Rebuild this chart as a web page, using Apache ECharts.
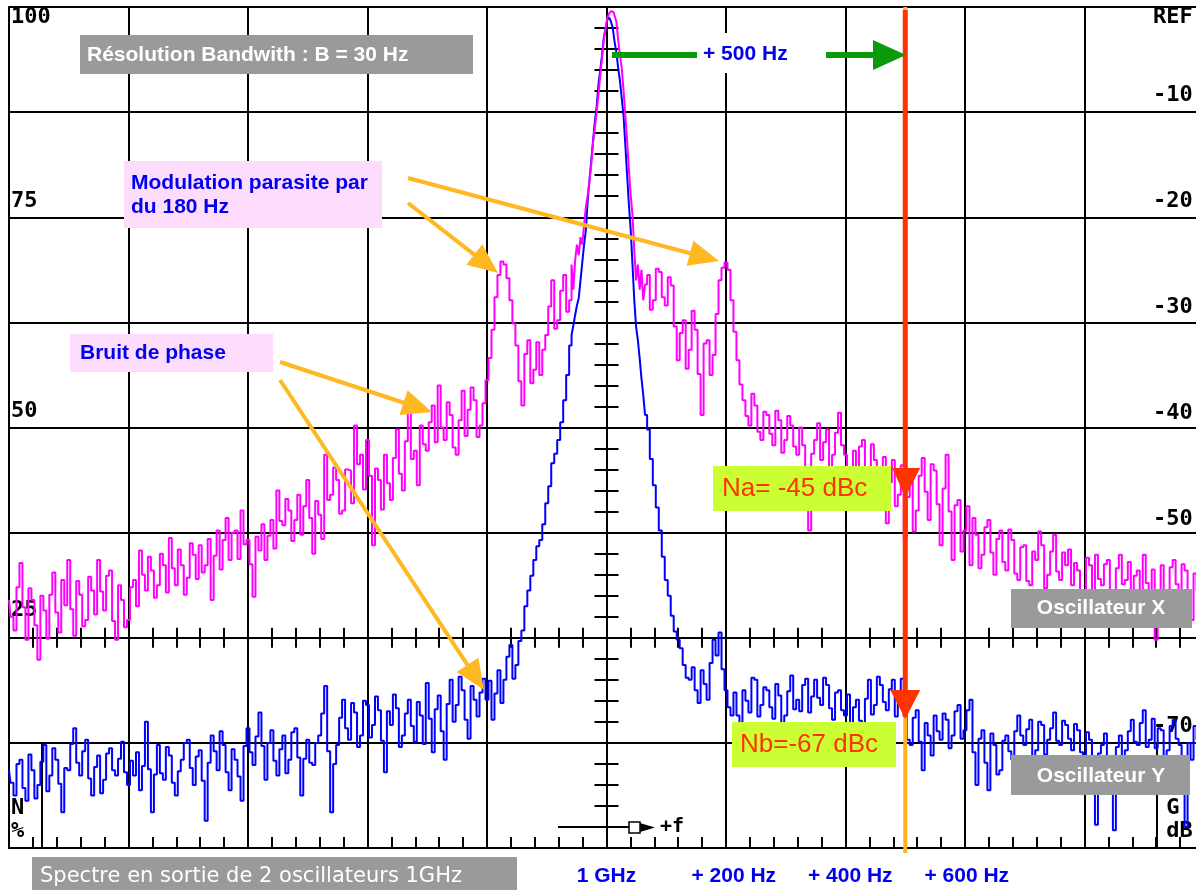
<!DOCTYPE html>
<html><head><meta charset="utf-8">
<script src="https://cdn.jsdelivr.net/npm/echarts@6/dist/echarts.min.js"></script>
<style>html,body{margin:0;padding:0;background:#fff;overflow:hidden}#c{width:1196px;height:890px}</style>
</head><body><div id="c"></div>
<script>
// ---- axis ranges (Hz offset from 1 GHz carrier, dB) ----
const FREQ_MIN = -1000, FREQ_MAX = 1000, FREQ_STEP = 200;
const DB_MIN = -80, DB_MAX = 0, DB_STEP = 10;

// ---- Oscillateur X (magenta), dB ----
// wings sampled every 5 Hz, core every 3 Hz
const oscXLeft = [ // -1000 .. -60 Hz
 -56.4,-58.0,-59.3,-55.2,-52.9,-57.1,-60.2,-55.3,-56.4,-58.8,
 -62.1,-56.0,-57.4,-60.1,-55.9,-53.8,-57.6,-59.5,-54.5,-56.9,
 -52.6,-57.3,-59.8,-54.6,-55.9,-58.9,-58.3,-54.2,-55.5,-57.8,
 -52.6,-55.6,-57.4,-54.1,-53.6,-58.4,-60.2,-55.0,-56.4,-59.0,
 -58.3,-55.2,-54.5,-57.0,-51.7,-54.0,-55.5,-52.3,-53.6,-56.2,
 -55.0,-52.0,-53.1,-55.7,-50.5,-53.4,-55.0,-51.6,-53.1,-55.9,
 -54.3,-51.0,-52.1,-54.4,-51.2,-53.8,-53.1,-50.6,-56.4,-52.2,
 -49.8,-53.5,-50.7,-48.6,-52.6,-50.0,-49.8,-52.5,-47.9,-51.1,
 -50.7,-53.0,-56.1,-50.4,-51.7,-49.2,-52.6,-50.3,-48.8,-51.5,
 -46.0,-48.9,-49.3,-46.8,-47.9,-50.8,-48.8,-46.4,-50.2,-47.5,
 -45.0,-48.6,-52.0,-47.0,-48.3,-50.6,-42.6,-46.9,-46.4,-43.8,
 -45.0,-48.2,-47.9,-44.0,-44.1,-47.2,-39.8,-43.5,-42.6,-45.9,
 -41.2,-44.6,-51.2,-43.9,-45.0,-47.8,-42.6,-45.3,-46.9,-42.9,
 -40.2,-44.4,-46.0,-41.3,-38.3,-43.0,-42.2,-45.5,-39.8,-41.6,
 -42.2,-39.5,-37.9,-41.4,-36.0,-40.0,-41.2,-37.6,-38.8,-41.9,
 -42.6,-39.3,-36.5,-40.8,-38.3,-36.2,-37.4,-40.9,-39.8,-37.7,
 -35.5,-33.4,-30.7,-27.6,-25.5,-24.2,-24.5,-25.8,-27.9,-30.1,
 -32.2,-35.6,-37.9,-33.0,-31.7,-35.8,-34.5,-31.9,-35.0,-32.6,
 -31.2,-28.5,-26.0,-30.6,-29.8,-27.0,-25.5,-29.0,-27.9];
const oscXCore = [ // -57 .. 66 Hz
 -24.5,-26.9,-24.1,-22.6,-23.6,-21.9,-22.6,-20.7,-19.0,-17.9,
 -16.5,-15.0,-12.9,-11.5,-10.0,-8.4,-6.5,-4.9,-3.1,-2.0,
 -1.0,-0.6,-0.4,-0.5,-0.8,-1.4,-3.1,-4.6,-5.8,-7.9,
 -10.3,-12.7,-15.5,-17.9,-19.8,-23.1,-26.0,-24.5,-26.9,-25.0,
 -27.9,-26.4];
const oscXRight = [ // 70 .. 1000 Hz
 -25.5,-28.8,-27.9,-24.9,-25.2,-27.6,-28.4,-25.7,-26.5,-30.4,
 -33.6,-31.0,-29.8,-34.4,-32.6,-28.9,-30.7,-34.9,-38.8,-32.0,
 -31.7,-35.0,-33.1,-29.2,-26.0,-24.8,-24.3,-25.0,-27.9,-30.9,
 -33.6,-35.9,-37.4,-38.9,-39.8,-36.8,-37.9,-40.4,-41.2,-38.5,
 -38.8,-40.6,-41.7,-38.4,-39.3,-42.4,-41.2,-38.9,-39.8,-41.8,
 -42.6,-40.0,-41.7,-44.8,-49.8,-42.5,-41.2,-39.6,-43.1,-41.4,
 -40.2,-43.9,-42.6,-40.5,-38.6,-41.7,-42.6,-46.3,-45.0,-42.2,
 -44.1,-41.8,-41.2,-43.9,-44.5,-41.6,-43.1,-47.0,-45.5,-42.8,
 -49.1,-45.2,-43.1,-47.5,-46.4,-43.6,-50.7,-46.6,-44.1,-49.9,
 -47.9,-44.6,-42.9,-46.1,-48.8,-43.5,-44.1,-47.3,-51.2,-45.8,
 -42.6,-48.0,-52.6,-47.4,-46.9,-51.8,-49.8,-47.5,-53.1,-48.6,
 -50.2,-53.4,-52.1,-49.5,-48.8,-51.9,-54.0,-50.6,-49.8,-52.8,
 -53.6,-49.7,-50.7,-53.9,-54.5,-51.4,-51.2,-54.6,-55.0,-51.8,
 -52.6,-49.9,-51.2,-55.3,-54.0,-51.8,-50.2,-53.7,-54.5,-51.9,
 -53.1,-51.6,-55.0,-52.9,-53.6,-56.0,-55.5,-52.4,-53.1,-55.6,
 -52.1,-54.4,-55.0,-53.0,-52.6,-56.2,-55.5,-53.4,-52.1,-54.9,
 -54.5,-52.8,-56.4,-54.1,-53.6,-56.7,-52.1,-54.8,-56.1,-53.5,
 -60.2,-55.9,-53.1,-57.0,-55.5,-53.3,-52.6,-54.9,-56.4,-53.0,
 -53.6,-55.8,-58.3,-53.9,-55.5,-57.2,-54.5];

// ---- Oscillateur Y (blue), dB ----
const oscYLeft = [ // -1000 .. -60 Hz
 -72.6,-73.8,-75.0,-72.0,-71.6,-74.3,-75.5,-71.1,-72.6,-75.3,
 -74.0,-71.8,-70.2,-74.6,-73.1,-70.5,-71.6,-73.9,-76.6,-72.4,
 -72.6,-70.1,-68.6,-71.9,-73.1,-70.8,-69.7,-73.4,-75.0,-72.3,
 -71.2,-74.8,-73.5,-71.0,-70.5,-72.6,-73.1,-71.5,-69.9,-72.8,
 -74.0,-71.7,-73.1,-70.9,-74.5,-72.2,-68.0,-72.5,-76.6,-73.0,
 -70.2,-72.9,-73.5,-70.4,-71.2,-73.8,-75.0,-72.7,-71.6,-70.0,
 -69.7,-72.4,-74.0,-71.3,-70.7,-73.6,-77.4,-71.9,-69.3,-70.8,
 -72.6,-68.9,-70.2,-72.8,-74.5,-70.6,-71.6,-73.2,-75.5,-70.3,
 -68.6,-70.9,-72.1,-69.4,-67.1,-70.3,-73.5,-70.0,-68.8,-71.7,
 -73.1,-70.6,-69.3,-72.9,-71.6,-69.0,-68.6,-71.4,-75.0,-71.5,
 -69.7,-71.9,-72.1,-70.0,-69.3,-67.2,-64.6,-70.8,-76.6,-72.0,
 -70.2,-67.6,-65.9,-68.6,-69.7,-66.2,-67.1,-70.4,-69.3,-66.0,
 -66.4,-69.5,-68.3,-65.6,-66.9,-69.8,-72.8,-67.0,-68.3,-65.4,
 -66.7,-70.4,-69.3,-67.2,-65.9,-68.4,-69.9,-66.1,-67.4,-70.1,
 -64.3,-67.7,-70.9,-66.8,-65.5,-68.9,-71.6,-66.3,-64.0,-68.0,
 -66.4,-63.7,-65.0,-67.8,-69.6,-64.6,-65.9,-67.5,-65.2,-63.9,
 -65.9,-64.1,-67.8,-65.3,-63.1,-66.2,-64.0,-61.8,-60.7,-63.9,
 -62.6,-60.3,-59.3,-57.0,-55.5,-54.1,-52.6,-51.3,-50.7,-49.2,
 -47.2,-45.6,-43.4,-42.5,-41.2,-39.5,-37.4,-35.0,-32.2];
const oscYCore = [ // -57 .. 66 Hz
 -31.2,-30.3,-29.3,-28.4,-27.7,-26.0,-24.3,-22.6,-21.2,-18.4,
 -16.5,-14.6,-12.7,-10.9,-9.5,-7.4,-6.0,-4.6,-2.9,-2.0,
 -1.2,-1.0,-1.4,-2.0,-3.3,-4.3,-5.8,-7.0,-8.7,-10.3,
 -13.1,-16.0,-18.8,-21.2,-24.5,-27.9,-30.4,-31.7,-33.4,-35.3,
 -36.9,-38.8];
const oscYRight = [ // 70 .. 1000 Hz
 -40.2,-43.0,-45.5,-47.6,-49.8,-52.3,-54.5,-56.0,-57.9,-59.4,
 -60.2,-61.0,-62.6,-63.8,-64.0,-62.8,-65.0,-66.2,-63.1,-64.4,
 -65.9,-62.4,-60.2,-61.7,-59.5,-63.0,-65.0,-66.6,-67.4,-65.2,
 -67.4,-68.6,-65.0,-66.0,-67.1,-63.8,-64.0,-67.5,-66.4,-64.7,
 -65.0,-66.6,-67.7,-64.4,-65.5,-68.3,-67.4,-65.1,-63.6,-66.8,
 -65.9,-67.0,-64.5,-63.9,-67.1,-65.6,-64.0,-65.7,-66.4,-63.8,
 -64.5,-66.7,-67.8,-65.2,-65.0,-66.9,-67.4,-65.4,-68.8,-66.6,
 -65.9,-67.9,-68.3,-65.8,-64.0,-67.3,-66.4,-63.7,-64.5,-66.1,
 -66.9,-64.9,-64.0,-67.5,-65.9,-63.9,-67.4,-69.7,-70.2,-67.6,
 -66.9,-69.9,-72.6,-68.1,-69.3,-71.2,-67.4,-68.9,-69.7,-67.2,
 -67.8,-70.5,-69.3,-67.0,-66.4,-69.6,-68.8,-66.9,-65.9,-70.9,
 -74.0,-69.6,-68.8,-71.9,-74.5,-69.1,-70.2,-73.0,-72.6,-69.8,
 -69.3,-70.8,-71.6,-68.9,-67.4,-69.3,-70.2,-68.7,-67.8,-71.4,
 -70.7,-68.0,-68.3,-71.1,-69.7,-68.6,-67.1,-69.8,-70.2,-67.9,
 -68.3,-69.6,-70.7,-68.2,-68.8,-70.9,-71.2,-69.0,-69.7,-72.3,
 -77.8,-71.0,-70.2,-69.1,-71.6,-72.9,-78.3,-70.4,-69.3,-71.8,
 -70.7,-68.9,-67.8,-69.9,-70.2,-68.1,-66.9,-70.4,-69.7,-67.7,
 -70.5,-68.6,-68.8,-71.3,-70.7,-68.4,-67.8,-69.6,-70.2,-71.9,
 -78.0,-70.0,-71.6,-68.4,-69.7,-72.3,-71.2];

// sample grids
const WING_STEP = 5, CORE_STEP = 3;
const LEFT_START = -1000, CORE_START = -57, RIGHT_START = 70;

// ---- tick labels ----
const leftTickText = ['100', '75', '50', '25', 'N\n%'];
const leftTickAt = [-0.95, -18.5, -38.5, -57.4, -77.3];
const rightTickText = ['REF', '-10', '-20', '-30', '-40', '-50', '-60', '-70', ' G\n dB'];
const rightTickAt = [-0.95, -8.4, -18.5, -28.6, -38.6, -48.7, -58.5, -68.4, -77.3];
const freqLabelText = ['1 GHz', '+ 200 Hz', '+ 400 Hz', '+ 600 Hz'];
const freqLabelAt = [0, 213, 408, 603];

const markerFreq = 500; // marker at +500 Hz

function seg(start, step, vals) { return vals.map((v, i) => [start + i * step, v]); }
const dataX = [].concat(seg(LEFT_START, WING_STEP, oscXLeft), seg(CORE_START, CORE_STEP, oscXCore), seg(RIGHT_START, WING_STEP, oscXRight));
const dataY = [].concat(seg(LEFT_START, WING_STEP, oscYLeft), seg(CORE_START, CORE_STEP, oscYCore), seg(RIGHT_START, WING_STEP, oscYRight));

function pick(vals, texts) {
  return function (v) {
    let b = 0;
    for (let i = 1; i < vals.length; i++) if (Math.abs(vals[i] - v) < Math.abs(vals[b] - v)) b = i;
    return texts[b];
  };
}

const black = '#000';
const gl = { color: black, width: 2 };
const monoLabel = { color: black, fontFamily: 'DejaVu Sans Mono', fontWeight: 'bold', fontSize: 22, lineHeight: 23 };

function tickX(inside, offset) {
  return {
    type: 'value', min: FREQ_MIN, max: FREQ_MAX, interval: FREQ_STEP, position: 'bottom', offset: offset,
    axisLine: { show: false, onZero: false },
    axisTick: { show: true, inside: inside, length: 10, lineStyle: gl },
    minorTick: { show: true, splitNumber: 5, length: 10, lineStyle: gl },
    splitLine: { show: false }, axisLabel: { show: false }
  };
}
function tickY(inside) {
  return {
    type: 'value', min: DB_MIN, max: DB_MAX, interval: DB_STEP, position: 'left',
    axisLine: { show: true, onZero: true, lineStyle: gl },
    axisTick: { show: true, inside: inside, length: 12, lineStyle: gl },
    minorTick: { show: true, splitNumber: 5, length: 12, lineStyle: gl },
    splitLine: { show: false }, axisLabel: { show: false }
  };
}

const chart = echarts.init(document.getElementById('c'));
const GRID_H = 841;
chart.setOption({
  animation: false,
  backgroundColor: '#fff',
  grid: { left: 9, top: 7, width: 1195, height: GRID_H, outerBoundsMode: 'none', containLabel: false },
  xAxis: [
    {
      type: 'value', min: FREQ_MIN, max: FREQ_MAX, interval: FREQ_STEP, position: 'bottom',
      axisLine: { show: true, onZero: false, lineStyle: gl },
      axisTick: { show: true, inside: true, length: 11, lineStyle: gl },
      minorTick: { show: true, splitNumber: 5, length: 11, lineStyle: gl },
      splitLine: { show: true, lineStyle: gl },
      axisLabel: {
        customValues: freqLabelAt, formatter: pick(freqLabelAt, freqLabelText),
        color: '#0000ee', fontFamily: 'Liberation Sans', fontWeight: 'bold', fontSize: 21, margin: 18
      }
    },
    tickX(true, -GRID_H * 20 / 80),
    tickX(false, -GRID_H * 20 / 80)
  ],
  yAxis: [
    {
      type: 'value', min: DB_MIN, max: DB_MAX, interval: DB_STEP, position: 'left',
      axisLine: { show: true, onZero: false, lineStyle: gl },
      axisTick: { show: false },
      splitLine: { show: true, lineStyle: gl },
      axisLabel: Object.assign({ inside: true, margin: 2, customValues: leftTickAt, formatter: pick(leftTickAt, leftTickText) }, monoLabel)
    },
    {
      type: 'value', min: DB_MIN, max: DB_MAX, interval: DB_STEP, position: 'right',
      axisLine: { show: false, onZero: false }, axisTick: { show: false }, splitLine: { show: false },
      axisLabel: Object.assign({ inside: true, align: 'left', margin: 51, customValues: rightTickAt, formatter: pick(rightTickAt, rightTickText) }, monoLabel)
    },
    tickY(false),
    tickY(true)
  ],
  series: [
    { type: 'line', name: 'Oscillateur Y', data: dataY, showSymbol: false, step: 'middle', z: 3,
      lineStyle: { color: '#0000ff', width: 2 }, itemStyle: { color: '#0000ff' } },
    { type: 'line', name: 'Oscillateur X', data: dataX, showSymbol: false, step: 'middle', z: 4,
      lineStyle: { color: '#ff00ff', width: 2 }, itemStyle: { color: '#ff00ff' } }
  ]
});

// ---- annotations ----
const G = [];
let zc = 100;
const bold21 = 'bold 21px "Liberation Sans", Arial, sans-serif';
function rect(x, y, w, h, fill, stroke, z) { G.push({ type: 'rect', z: z || zc++, shape: { x, y, width: w, height: h }, style: { fill, stroke: stroke || null, lineWidth: stroke ? 1.5 : 0 } }); }
function text(x, y, t, fill, font, align, lh, z) {
  G.push({ type: 'text', z: z || zc++, x, y, style: { text: t, fill, font, align: align || 'left', textAlign: align || 'left', verticalAlign: 'middle', textVerticalAlign: 'middle', lineHeight: lh || undefined } });
}
function line(x1, y1, x2, y2, stroke, w, z) { G.push({ type: 'line', z: z || zc++, shape: { x1, y1, x2, y2 }, style: { stroke, lineWidth: w } }); }
function tri(points, fill, z) { G.push({ type: 'polygon', z: z || zc++, shape: { points }, style: { fill } }); }
function arrow(x1, y1, x2, y2, color, w, hl, hw) {
  const dx = x2 - x1, dy = y2 - y1, L = Math.hypot(dx, dy), ux = dx / L, uy = dy / L;
  const bx = x2 - ux * hl, by = y2 - uy * hl, px = -uy, py = ux;
  line(x1, y1, bx + ux * 2, by + uy * 2, color, w);
  tri([[x2, y2], [bx + px * hw / 2, by + py * hw / 2], [bx - px * hw / 2, by - py * hw / 2]], color);
}

const mx = chart.convertToPixel({ xAxisIndex: 0 }, markerFreq);
const yTop = chart.convertToPixel({ yAxisIndex: 0 }, DB_MAX);
const yBot = chart.convertToPixel({ yAxisIndex: 0 }, DB_MIN);

// panel separators near N% and G dB, and the +f marker (under traces)
line(42, 744, 42, yBot, black, 2, 1);
line(1157, 744, 1157, yBot, black, 2, 1);
line(558, 827, 650, 827, black, 2, 1);
rect(629, 822, 11, 11, '#fff', black, 1);
tri([[640, 823], [655, 827.5], [640, 832]], black, 1);
text(660, 827, '+f', black, 'bold 20px "DejaVu Sans Mono"', 'left', null, 1);

// marker line
line(mx, yTop, mx, 853, '#ffb41e', 4);
line(mx, 10, mx, 717, '#ff3300', 5);
tri([[mx - 13, 468], [mx + 15, 468], [mx, 497]], '#ff3300');
tri([[mx - 15, 690], [mx + 15, 690], [mx, 719]], '#ff3300');

// +500 Hz arrow
line(612, 55, 876, 55, '#0a9a0a', 6);
rect(697, 33, 129, 40, '#fff');
text(703, 54, '+ 500 Hz', '#0000ee', bold21);
tri([[873, 40], [906, 55], [873, 70]], '#0a9a0a');

// info boxes
rect(80, 35, 393, 39, '#9a9a9a');
text(87, 55, 'Résolution Bandwith : B = 30 Hz', '#fff', bold21);
rect(124, 161, 258, 67, '#fedcfd');
text(131, 195, 'Modulation parasite par\ndu 180 Hz', '#0000ee', bold21, 'left', 24);
rect(70, 334, 203, 38, '#fedcfd');
text(80, 353, 'Bruit de phase', '#0000ee', bold21);

// orange arrows
const org = '#ffb821';
arrow(408, 178, 719, 261, org, 4, 30, 26);
arrow(408, 203, 498, 273, org, 4, 30, 26);
arrow(280, 362, 432, 412, org, 4, 30, 26);
arrow(280, 380, 484, 690, org, 4, 30, 26);

// noise readings
rect(713, 466, 178, 45, '#ccff33');
text(722, 489, 'Na= -45 dBc', '#ff3300', '26px "Liberation Sans", Arial, sans-serif');
rect(732, 722, 164, 45, '#ccff33');
text(740, 745, 'Nb=-67 dBc', '#ff3300', '26px "Liberation Sans", Arial, sans-serif');

// series tags
rect(1011, 589, 181, 39, '#9a9a9a');
text(1101, 608, 'Oscillateur X', '#fff', bold21, 'center');
rect(1011, 755, 179, 40, '#9a9a9a');
text(1101, 776, 'Oscillateur Y', '#fff', bold21, 'center');

// caption
rect(32, 857, 485, 40, '#9a9a9a');
text(40, 877, 'Spectre en sortie de 2 oscillateurs 1GHz', '#fff', '21px "DejaVu Sans", sans-serif');

chart.setOption({ graphic: { elements: G } });
</script>
</body></html>
